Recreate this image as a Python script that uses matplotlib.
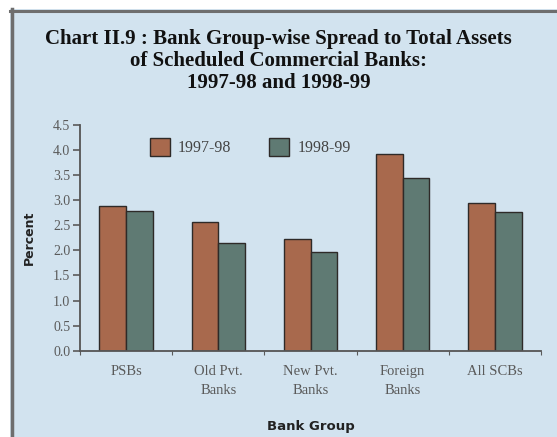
import matplotlib
matplotlib.use("Agg")
import matplotlib.pyplot as plt
from matplotlib.patches import Rectangle
from matplotlib.lines import Line2D
import numpy as np

categories = ["PSBs", "Old Pvt.\nBanks", "New Pvt.\nBanks", "Foreign\nBanks", "All SCBs"]
series_names = ["1997-98", "1998-99"]
spread_1997_98 = [2.89, 2.57, 2.23, 3.93, 2.94]
spread_1998_99 = [2.79, 2.14, 1.97, 3.45, 2.77]
yticks = [0.0, 0.5, 1.0, 1.5, 2.0, 2.5, 3.0, 3.5, 4.0, 4.5]

W, H = 557, 437
bg = "#d2e3ef"
c1 = "#a8694d"
c2 = "#5f7a73"
edge = "#2e2a28"
tick_grey = "#5a5a5a"

fig = plt.figure(figsize=(W / 100, H / 100), dpi=100)
fig.patch.set_facecolor("white")

# panel background and grey frame lines
fig.add_artist(Rectangle((10 / W, 0), 1 - 10 / W, 1 - 9 / H, transform=fig.transFigure,
                         facecolor=bg, edgecolor="none", zorder=0))
fig.add_artist(Line2D([10 / W, 1], [1 - 10.5 / H, 1 - 10.5 / H], transform=fig.transFigure,
                      color="#6e6e6e", lw=2.2, zorder=1))
fig.add_artist(Line2D([11.5 / W, 11.5 / W], [0, 1 - 9 / H], transform=fig.transFigure,
                      color="#6e6e6e", lw=2.5, zorder=1))

ax = fig.add_axes([80 / W, 1 - 350.7 / H, (541 - 80) / W, (350.7 - 125) / H])
ax.set_facecolor("none")

x = np.arange(len(categories))
bw = 0.29
b1 = ax.bar(x - bw / 2, spread_1997_98, bw, color=c1, edgecolor=edge, linewidth=1.0,
            label=series_names[0])
b2 = ax.bar(x + bw / 2, spread_1998_99, bw, color=c2, edgecolor=edge, linewidth=1.0,
            label=series_names[1])

ax.set_xlim(-0.5, len(categories) - 0.5)
ax.set_ylim(0, 4.5)
ax.set_yticks(yticks)
ax.set_yticklabels([f"{v:.1f}" for v in yticks], family="Liberation Serif",
                   fontsize=10, color=tick_grey)

# category labels centred under groups, tick marks at group boundaries
ax.set_xticks(np.arange(len(categories) + 1) - 0.5)
ax.set_xticklabels([])
ax.set_xticks(x, minor=True)
ax.set_xticklabels(categories, minor=True, family="Liberation Serif", fontsize=10.5,
                   color=tick_grey, linespacing=1.6)
ax.tick_params(axis="x", which="minor", length=0, pad=10)
ax.tick_params(axis="x", which="major", length=3, color=tick_grey, direction="out")
ax.tick_params(axis="y", length=5, width=1.2, color=tick_grey, pad=2)

for s in ["top", "right"]:
    ax.spines[s].set_visible(False)
for s in ["left", "bottom"]:
    ax.spines[s].set_color("#555555")
    ax.spines[s].set_linewidth(1.3)

ax.set_ylabel("Percent", family="DejaVu Sans", fontweight="bold", fontsize=9,
              labelpad=12, color="#222222")
ax.set_xlabel("Bank Group", family="DejaVu Sans", fontweight="bold", fontsize=9.5,
              labelpad=17, color="#222222")

leg = ax.legend(loc="upper left", bbox_to_anchor=(0.12, 1.005), ncol=2, frameon=False,
                prop={"family": "Liberation Serif", "size": 11.5}, handlelength=1.25,
                handleheight=1.3, columnspacing=2.4, handletextpad=0.5)
for t in leg.get_texts():
    t.set_color("#444444")

fig.text(0.5, 1 - 61 / H, "Chart II.9 : Bank Group-wise Spread to Total Assets\n"
         "of Scheduled Commercial Banks:\n1997-98 and 1998-99",
         ha="center", va="center", family="Liberation Serif", fontweight="bold",
         fontsize=15, linespacing=1.16, color="#111111")

fig.savefig("out.png", dpi=100, facecolor=fig.get_facecolor())
